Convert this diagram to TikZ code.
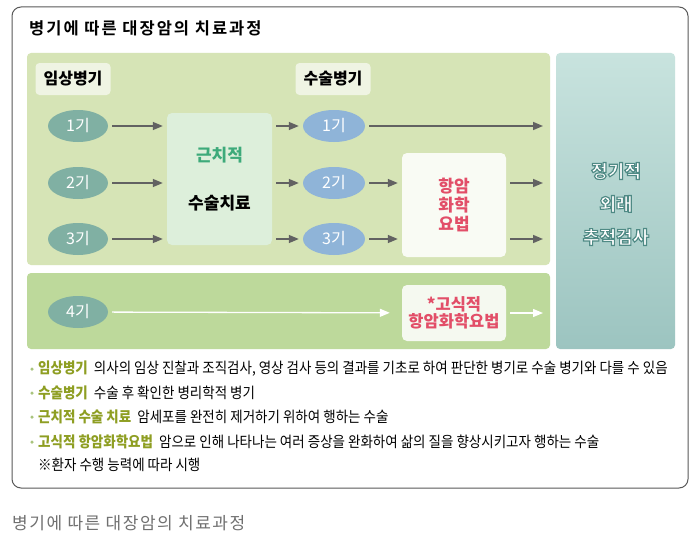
\documentclass[tikz,border=0pt]{standalone}
\usepackage{fontspec}
\setmainfont{Noto Sans CJK KR}
\newfontfamily\narrowfont[FakeStretch=0.9]{Noto Sans CJK KR}
\newfontfamily\titlefont[LetterSpace=12]{Noto Sans CJK KR Bold}
\newfontfamily\capfont[LetterSpace=9]{Noto Sans CJK KR}
\newfontfamily\rimfont{Noto Sans CJK KR Black}
\usetikzlibrary{positioning, arrows.meta, shapes.geometric}

\definecolor{panelA}{HTML}{D6E4B6}
\definecolor{panelB}{HTML}{BDD99B}
\definecolor{stageL}{HTML}{80B0A3}
\definecolor{stageR}{HTML}{8FB4D8}
\definecolor{surgfill}{HTML}{DDEFDB}
\definecolor{tagfill}{HTML}{EFF4E3}
\definecolor{cureg}{HTML}{3DAA7A}
\definecolor{chemor}{HTML}{E24E68}
\definecolor{arrowg}{HTML}{626262}
\definecolor{followA}{HTML}{C8E3DE}
\definecolor{followB}{HTML}{9CC4C0}
\definecolor{keyc}{HTML}{8E9E22}
\definecolor{dotc}{HTML}{A9C47E}
\definecolor{capg}{HTML}{707070}

\newcommand{\fsz}[1]{\fontsize{#1}{#1}\selectfont}
% white letters with a teal rim
\newcommand{\rimtext}[1]{\special{pdf:literal direct 2 Tr 1.15 w 0.31 0.54 0.52 RG}#1\special{pdf:literal direct 0 Tr 0 G}}

\tikzset{
  panel/.style = {rounded corners=4pt, draw=none},
  tag/.style = {rectangle, rounded corners=4pt, fill=tagfill, minimum width=75, minimum height=32, font=\fsz{16}\bfseries},
  stage/.style = {ellipse, fill=#1, text=white, minimum width=60, minimum height=32, inner sep=0pt, font=\fsz{16}},
  stage/.default = stageL,
  treat/.style = {rectangle, rounded corners=5pt, inner sep=0pt, align=center},
  arr/.style = {-{Triangle[length=10pt,width=8pt]}, line width=1.5pt, color=arrowg, shorten <=4pt, shorten >=4pt},
  warr/.style = {arr, color=white, line width=1.3pt},
  note/.style = {anchor=west, inner sep=0pt, font=\narrowfont\fsz{15}},
  dot/.style = {circle, fill=dotc, inner sep=0pt, minimum size=3.5pt}
}

\begin{document}
\begin{tikzpicture} [x=1pt, y=-1pt, node distance = 57pt, on grid]

    \useasboundingbox (0,0) rectangle (698,535);
    \fill[white] (0,0) rectangle (698,535);

    % outer frame and title
    \draw[rounded corners=9pt, draw=gray!70!black, line width=1pt] (12,7) rectangle (688,488);
    \node (title) [anchor=west, inner sep=0pt, font=\titlefont\fsz{16.5}] at (29,28) {병기에 따른 대장암의 치료과정};

    % panels
    \fill[panel, fill=panelA] (27,53) rectangle (550,265);
    \fill[panel, fill=panelB] (27,273) rectangle (550,349);
    \node (follow) [rectangle, rounded corners=4pt, minimum width=119, minimum height=296, top color=followA, bottom color=followB] at (615.5,201) {};
    \node (fw) [align=center, text=white, font=\rimfont\fsz{18}] at (616,204)
        {\rimtext{정기적}\\[15pt]\rimtext{외래}\\[15pt]\rimtext{추적검사}};

    % stage labels
    \node (clin) [tag] at (73,79) {임상병기};
    \node (path) [tag] at (333,79) {수술병기};

    % clinical stages
    \node (s1) [stage] at (78,126) {1기};
    \node (s2) [stage, below = of s1] {2기};
    \node (s3) [stage, below = 56pt of s2] {3기};
    \node (s4) [stage] at (78,312) {4기};

    % surgery box
    \node (surg) [treat, fill=surgfill, minimum width=105, minimum height=132] at (219.5,179) {};
    \node (cure) [text=cureg, font=\fsz{17}\bfseries] at (219.5,155) {근치적};
    \node (op) [font=\fsz{17}\bfseries] at (219.5,203) {수술치료};

    % pathologic stages
    \node (r1) [stage=stageR, minimum width=62] at (334,126) {1기};
    \node (r2) [stage=stageR, minimum width=62, below = of r1] {2기};
    \node (r3) [stage=stageR, minimum width=62, below = 56pt of r2] {3기};

    % chemotherapy boxes
    \node (chemo) [treat, fill=white!85!panelA, minimum width=104, minimum height=104, text=chemor, font=\fsz{17}\bfseries] at (454,205)
        {항암\\[2pt]화학\\[2pt]요법};
    \node (pal) [treat, fill=white!85!panelB, minimum width=104, minimum height=56, text=chemor, font=\fsz{16.5}\bfseries] at (454,313)
        {*고식적\\[1pt]항암화학요법};

    \coordinate (e1) at (547,126);
    \coordinate (e2) at (547,183);
    \coordinate (e3) at (547,239);
    \coordinate (e4) at (547,313);

    \path [arr]
        (s1) edge (s1 -| surg.west)
        (s2) edge (s2 -| surg.west)
        (s3) edge (s3 -| surg.west)
        (r1 -| surg.east) edge (r1)
        (r2 -| surg.east) edge (r2)
        (r3 -| surg.east) edge (r3)
        (r1) edge (e1)
        (r2) edge (r2 -| chemo.west)
        (r3) edge (r3 -| chemo.west)
        (e2 -| chemo.east) edge (e2)
        (e3 -| chemo.east) edge (e3);
    \path [warr]
        (s4) edge [shorten >=12pt] (pal)
        (pal) edge (e4);

    % legend
    \foreach \y in {369,393,417,442} \node [dot] at (32,\y) {};
    \node (n1) [note] at (38,369) {\textcolor{keyc}{\bfseries 임상병기}\ \ 의사의 임상 진찰과 조직검사, 영상 검사 등의 결과를 기초로 하여 판단한 병기로 수술 병기와 다를 수 있음};
    \node (n2) [note] at (38,393) {\textcolor{keyc}{\bfseries 수술병기}\ \ 수술 후 확인한 병리학적 병기};
    \node (n3) [note] at (38,417) {\textcolor{keyc}{\bfseries 근치적 수술 치료}\ \ 암세포를 완전히 제거하기 위하여 행하는 수술};
    \node (n4) [note] at (38,442) {\textcolor{keyc}{\bfseries 고식적 항암화학요법}\ \ 암으로 인해 나타나는 여러 증상을 완화하여 삶의 질을 향상시키고자 행하는 수술};
    \node (n5) [note] at (38,465) {※환자 수행 능력에 따라 시행};

    % caption
    \node (cap) [anchor=west, inner sep=0pt, text=capg, font=\capfont\fsz{17}] at (12,523) {병기에 따른 대장암의 치료과정};

\end{tikzpicture}
\end{document}
